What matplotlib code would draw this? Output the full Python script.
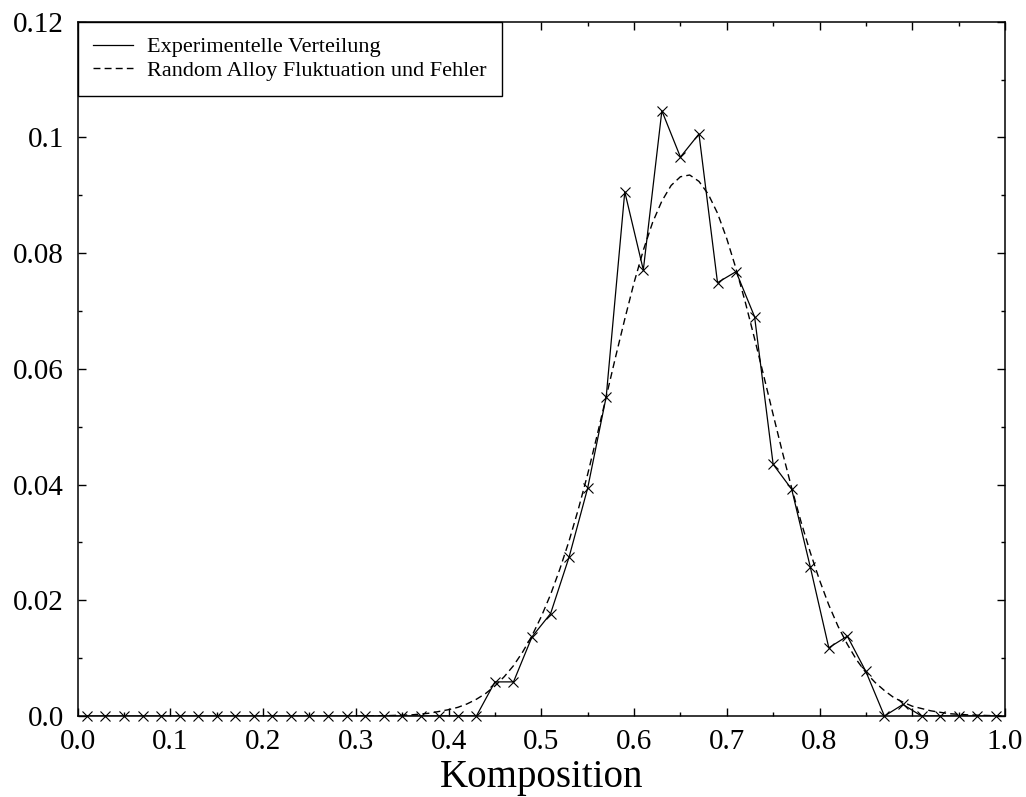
import matplotlib
matplotlib.use("Agg")
import matplotlib.pyplot as plt
from matplotlib.ticker import MultipleLocator, FuncFormatter

# experimental distribution (bin centres 0.01 .. 0.99)
komp = [0.01, 0.03, 0.05, 0.07, 0.09, 0.11, 0.13, 0.15, 0.17, 0.19,
        0.21, 0.23, 0.25, 0.27, 0.29, 0.31, 0.33, 0.35, 0.37, 0.39,
        0.41, 0.43, 0.45, 0.47, 0.49, 0.51, 0.53, 0.55, 0.57, 0.59,
        0.61, 0.63, 0.65, 0.67, 0.69, 0.71, 0.73, 0.75, 0.77, 0.79,
        0.81, 0.83, 0.85, 0.87, 0.89, 0.91, 0.93, 0.95, 0.97, 0.99]
exp_vert = [0.0, 0.0, 0.0, 0.0, 0.0, 0.0, 0.0, 0.0, 0.0, 0.0,
            0.0, 0.0, 0.0, 0.0, 0.0, 0.0, 0.0, 0.0, 0.0, 0.0,
            0.0, 0.0, 0.0059, 0.0059, 0.0137, 0.0177, 0.0275, 0.0394, 0.0552, 0.0906,
            0.0771, 0.1046, 0.0966, 0.1006, 0.0749, 0.0768, 0.069, 0.0435, 0.0392, 0.0258,
            0.0118, 0.0138, 0.0077, 0.0, 0.002, 0.0, 0.0, 0.0, 0.0, 0.0]

# random alloy fluctuation + error
komp_fit = [0.30, 0.32, 0.34, 0.36, 0.38, 0.40, 0.41, 0.42, 0.43, 0.44,
            0.45, 0.46, 0.47, 0.48, 0.49, 0.50, 0.51, 0.52, 0.53, 0.54,
            0.55, 0.56, 0.57, 0.58, 0.59, 0.60, 0.61, 0.62, 0.63, 0.64,
            0.65, 0.66, 0.67, 0.68, 0.69, 0.70, 0.71, 0.72, 0.73, 0.74,
            0.75, 0.76, 0.77, 0.78, 0.79, 0.80, 0.81, 0.82, 0.83, 0.84,
            0.85, 0.86, 0.87, 0.88, 0.89, 0.90, 0.92, 0.94, 0.96, 0.98, 1.00]
fit_vert = [0.0, 0.0, 0.0001, 0.0002, 0.0005, 0.0011, 0.0015, 0.0021, 0.0029, 0.0039,
            0.0052, 0.0068, 0.0087, 0.0111, 0.0139, 0.0172, 0.0210, 0.0254, 0.0303, 0.0358,
            0.0418, 0.0484, 0.0552, 0.0620, 0.0686, 0.0749, 0.0805, 0.0853, 0.0890, 0.0917,
            0.0932, 0.0935, 0.0924, 0.0902, 0.0869, 0.0825, 0.0773, 0.0715, 0.0652, 0.0587,
            0.0521, 0.0456, 0.0394, 0.0336, 0.0283, 0.0235, 0.0192, 0.0155, 0.0124, 0.0097,
            0.0075, 0.0058, 0.0044, 0.0032, 0.0024, 0.0017, 0.0009, 0.0004, 0.0002, 0.0001, 0.0]

plt.rcParams["font.family"] = ["Liberation Serif", "DejaVu Serif"]
plt.rcParams["lines.scale_dashes"] = False

fig = plt.figure(figsize=(10.26, 7.97), dpi=100)
ax = fig.add_axes([0.0757, 0.1016, 0.9038, 0.8712])

# line and markers separately so the legend shows a plain line
ax.plot(komp, exp_vert, "-", color="black", lw=0.9, label="Experimentelle Verteilung")
ax.plot(komp, exp_vert, "x", color="black", ms=7, mew=0.8, clip_on=False, zorder=3)
ax.plot(komp_fit, fit_vert, color="black", lw=1.0, dashes=(5, 3),
        label="Random Alloy Fluktuation und Fehler")

ax.set_xlim(0, 1.0)
ax.set_ylim(0, 0.12)
ax.xaxis.set_major_locator(MultipleLocator(0.1))
ax.xaxis.set_minor_locator(MultipleLocator(0.05))
ax.yaxis.set_major_locator(MultipleLocator(0.02))
ax.yaxis.set_minor_locator(MultipleLocator(0.01))
ax.xaxis.set_major_formatter(FuncFormatter(lambda v, p: f"{v:.1f}"))
ax.yaxis.set_major_formatter(FuncFormatter(
    lambda v, p: "0.0" if abs(v) < 1e-9 else f"{v:.2f}".rstrip("0")))

ax.tick_params(which="both", direction="in", top=True, right=True,
               labelsize=21, width=1.0)
ax.tick_params(which="major", length=6)
ax.tick_params(which="minor", length=3)
ax.tick_params(axis="x", which="major", pad=9)
ax.tick_params(axis="y", which="major", pad=10)
for s in ax.spines.values():
    s.set_linewidth(1.1)

ax.set_xlabel("Komposition", fontsize=28, labelpad=3)

leg = ax.legend(loc="upper left", borderaxespad=0, fontsize=16, fancybox=False,
                edgecolor="black", framealpha=1, handlelength=1.8,
                handletextpad=0.65, labelspacing=0.15, borderpad=0.68)
leg.get_frame().set_linewidth(1.0)

fig.savefig("out.png", dpi=100)
